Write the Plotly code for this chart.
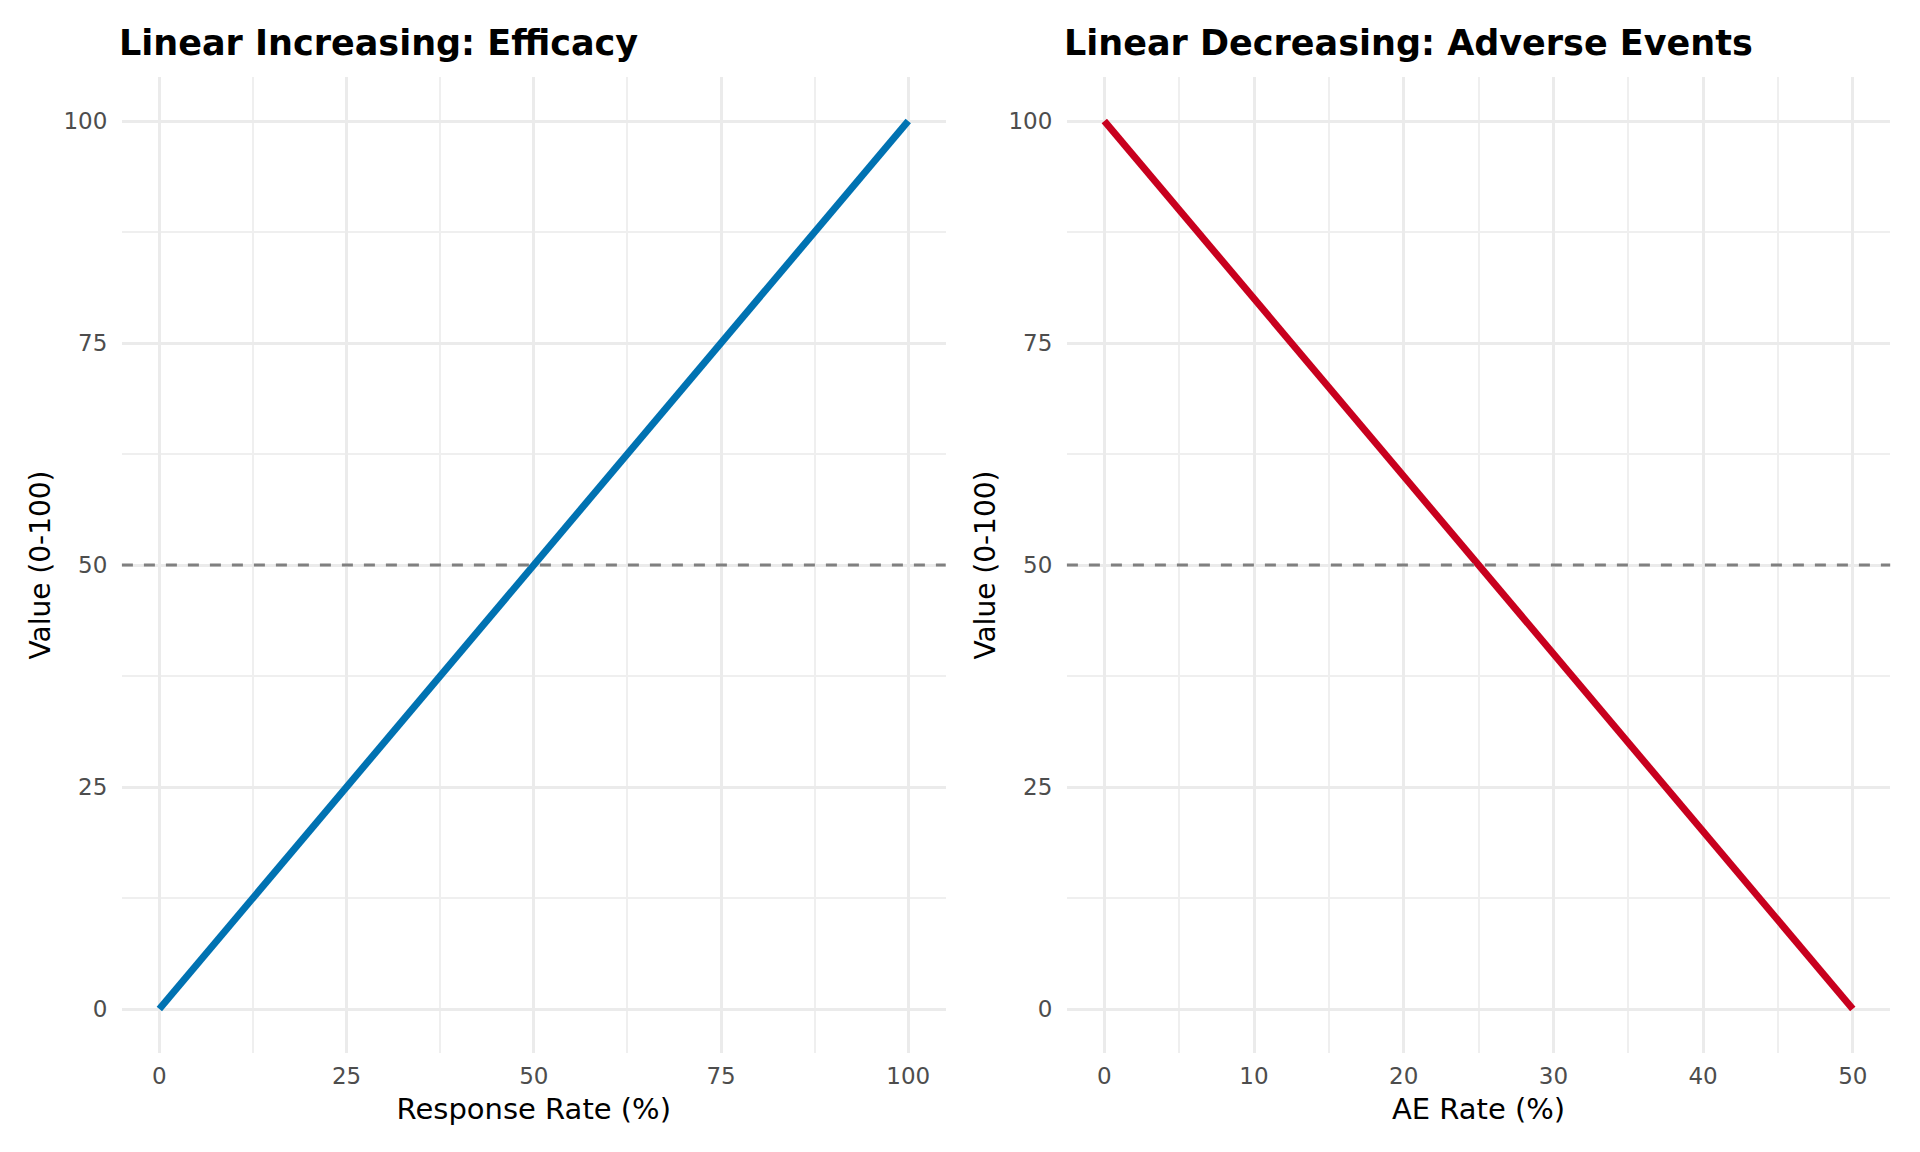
import plotly.graph_objects as go

# ---- data ----
efficacy_x = [0, 25, 50, 75, 100]          # Response Rate (%)
efficacy_y = [0, 25, 50, 75, 100]          # Value (0-100)
ae_x = [0, 10, 20, 30, 40, 50]             # AE Rate (%)
ae_y = [100, 80, 60, 40, 20, 0]            # Value (0-100)
reference_value = 50

titles = ["Linear Increasing: Efficacy", "Linear Decreasing: Adverse Events"]
x_titles = ["Response Rate (%)", "AE Rate (%)"]
y_title = "Value (0-100)"

W, H = 1920, 1152
OFF = 8  # page body margin offset
FONT = "DejaVu Sans"
GRID = "#EBEBEB"
TICK_COL = "#4D4D4D"

left_dom = [(121.9 - OFF) / W, (945.7 - OFF) / W]
right_dom = [(1066.9 - OFF) / W, (1890.2 - OFF) / W]
y_dom = [1 - (1053.4 - OFF) / H, 1 - (76.6 - OFF) / H]

fig = go.Figure()
fig.add_trace(go.Scatter(x=efficacy_x, y=efficacy_y, mode="lines",
                         line=dict(color="#0072B2", width=7),
                         xaxis="x", yaxis="y", showlegend=False))
fig.add_trace(go.Scatter(x=ae_x, y=ae_y, mode="lines",
                         line=dict(color="#C8001E", width=7),
                         xaxis="x2", yaxis="y2", showlegend=False))

def xax(dom, rng, dtick, title, anchor):
    return dict(domain=dom, range=rng, dtick=dtick, tick0=0, anchor=anchor,
                showgrid=True, gridcolor=GRID, gridwidth=2.8, zeroline=False,
                showline=False, ticks="outside", ticklen=2, tickcolor="rgba(0,0,0,0)",
                tickfont=dict(family=FONT, size=23, color=TICK_COL),
                minor=dict(dtick=dtick / 2, tick0=0, showgrid=True, gridcolor="#EFEFEF",
                           gridwidth=1.5, ticks=""),
                title=dict(text=title, font=dict(family=FONT, size=29, color="black"),
                           standoff=10),
                fixedrange=True)

def yax(anchor):
    return dict(domain=y_dom, range=[-5, 105], dtick=25, tick0=0, anchor=anchor,
                showgrid=True, gridcolor=GRID, gridwidth=2.8, zeroline=False,
                showline=False, ticks="outside", ticklen=9, tickcolor="rgba(0,0,0,0)",
                tickfont=dict(family=FONT, size=23, color=TICK_COL),
                minor=dict(dtick=12.5, tick0=0, showgrid=True, gridcolor="#EFEFEF",
                           gridwidth=1.5, ticks=""),
                title=dict(text=y_title, font=dict(family=FONT, size=28, color="black"),
                           standoff=4),
                fixedrange=True)

fig.update_layout(
    width=W, height=H, autosize=False,
    margin=dict(l=0, r=0, t=0, b=0),
    paper_bgcolor="white", plot_bgcolor="white",
    font=dict(family=FONT),
    xaxis=xax(left_dom, [-5, 105], 25, x_titles[0], "y"),
    yaxis=yax("x"),
    xaxis2=xax(right_dom, [-2.5, 52.5], 10, x_titles[1], "y2"),
    yaxis2=yax("x2"),
)

for xr, yr in [("x domain", "y"), ("x2 domain", "y2")]:
    fig.add_shape(type="line", xref=xr, yref=yr, x0=0, x1=1,
                  y0=reference_value, y1=reference_value,
                  line=dict(color="#808080", width=3, dash="11px,11px"), layer="above")

for dom, t in zip([left_dom, right_dom], titles):
    fig.add_annotation(text="<b>" + t + "</b>", xref="paper", yref="paper",
                       x=dom[0], y=1 - (43 - OFF) / H, xanchor="left", yanchor="middle",
                       xshift=-5, showarrow=False,
                       font=dict(family=FONT, size=35, color="black"))

fig.write_html("out.html")
